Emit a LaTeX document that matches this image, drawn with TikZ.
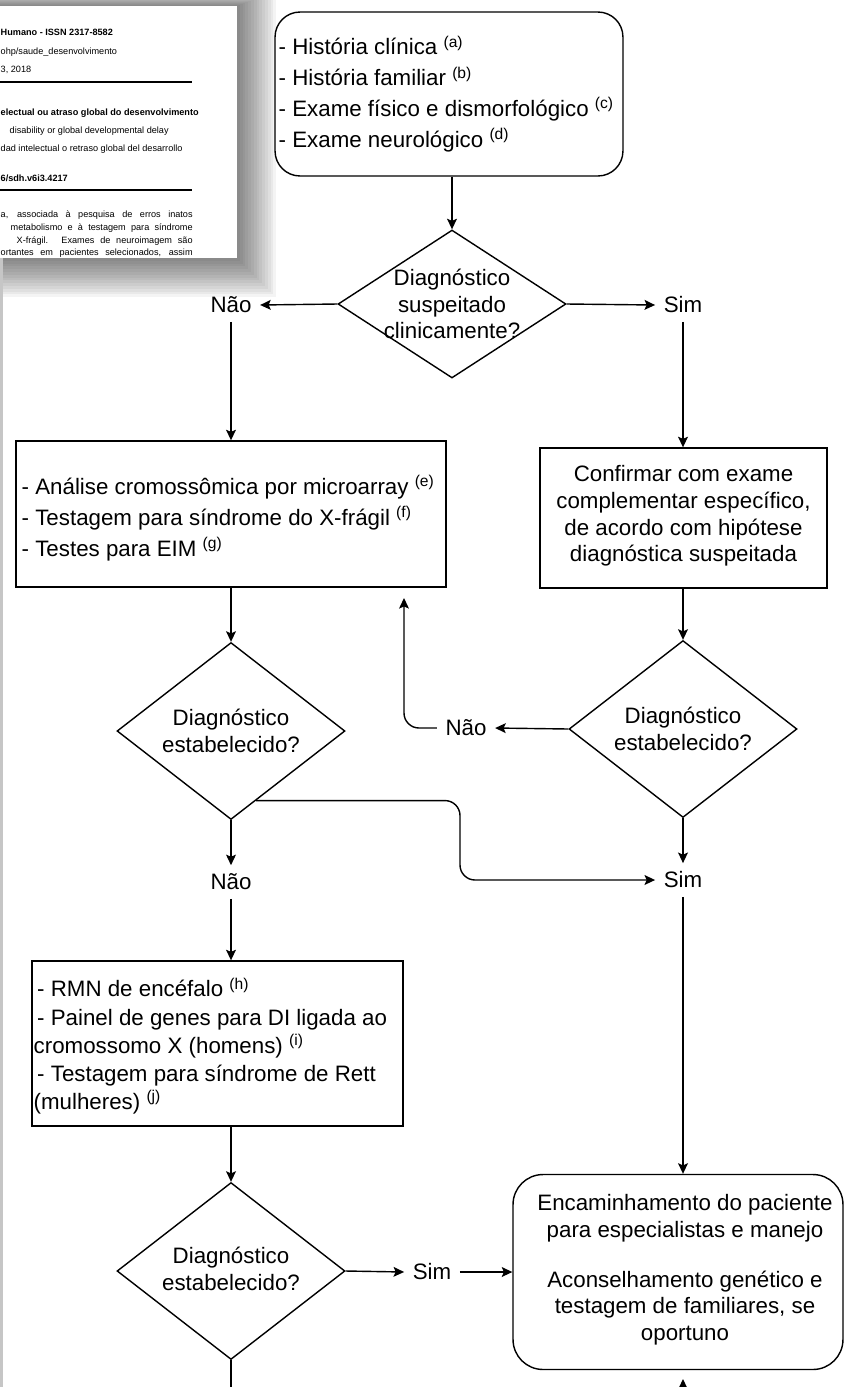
\documentclass[tikz,border=0pt]{standalone}
\usepackage{fontspec}
\setmainfont{Liberation Sans}
\usetikzlibrary{arrows.meta,positioning,shapes.geometric,calc}

\begin{document}
\begin{tikzpicture}[x=0.02cm, y=-0.02cm, line width=0.8pt,
  txt/.style={inner sep=0pt, font=\fontsize{12.7}{17.6}\selectfont},
  ctxt/.style={inner sep=0pt, align=center, font=\fontsize{12.7}{15.2}\selectfont},
  lbl/.style={inner sep=0.16cm, font=\fontsize{12.7}{15}\selectfont},
  sqbox/.style={draw, inner sep=0pt},
  rbox/.style={draw, inner sep=0pt, rounded corners=0.5cm},
  decision/.style={draw, diamond, inner sep=0pt, minimum width=4.56cm, minimum height=3.54cm},
  arr/.style={-{Stealth[length=6pt, width=5.6pt, inset=1.2pt]}},
  page/.style={inner sep=0pt, anchor=west, font=\fontsize{5.2}{6}\selectfont}]

  \useasboundingbox (0,0) rectangle (846,1387);
  \clip (0,0) rectangle (846,1387);

  % pasted page of the article, with its shadow
  \foreach \k in {1,...,14}
    \fill[black, opacity=0.045] (-40,6-\k) rectangle (237+2.8*\k, 258+2.8*\k);
  \fill[white] (-10,6) rectangle (237,258);
  \fill[gray!45] (0,258) rectangle (3,1387);

  \node[page, font=\fontsize{5.2}{6}\selectfont\bfseries] (issn) at (0,32) {Humano - ISSN 2317-8582};
  \node[page] (site) at (0,52) {ohp/saude\_desenvolvimento};
  \node[page] (ano) at (0,70) {3, 2018};
  \draw[line width=0.6pt] (0,82) -- (192,82);
  \node[page, font=\fontsize{5.2}{6}\selectfont\bfseries] (titpt) at (0,113) {electual ou atraso global do desenvolvimento};
  \node[page] (titen) at (9,131) {disability or global developmental delay};
  \node[page] (tites) at (0,149) {dad intelectual o retraso global del desarrollo};
  \node[page, font=\fontsize{5.2}{6}\selectfont\bfseries] (doi) at (0,178) {6/sdh.v6i3.4217};
  \draw[line width=0.6pt] (0,190) -- (192,190);
  \node[page] (par1) at (0,215) {\makebox[3.84cm][s]{a, associada à pesquisa de erros inatos}};
  \node[page] (par2) at (10,228) {\makebox[3.64cm][s]{metabolismo e à testagem para síndrome}};
  \node[page] (par3) at (16,241) {\makebox[3.52cm][s]{X-frágil. Exames de neuroimagem são}};
  \node[page] (par4) at (0,253) {\makebox[3.84cm][s]{ortantes em pacientes selecionados, assim}};

  % flowchart
  \node[rbox, minimum width=6.96cm, minimum height=3.28cm] (exame) at (449,94) {};
  \node[txt, anchor=west, align=left] (exametxt) at (278,94)
    {- História clínica \textsuperscript{(a)}\\- História familiar \textsuperscript{(b)}\\- Exame físico e dismorfológico \textsuperscript{(c)}\\- Exame neurológico \textsuperscript{(d)}};

  \node[decision, minimum height=2.96cm] (suspeito) at (452,304) {};
  \node[ctxt] (suspeitotxt) at (452,304) {Diagnóstico\\suspeitado\\clinicamente?};
  \node[lbl] (nao1) at (231,305) {Não};
  \node[lbl] (sim1) at (683,305) {Sim};

  \node[sqbox, minimum width=8.6cm, minimum height=2.92cm] (analise) at (231,514) {};
  \node[txt, anchor=west, align=left] (analisetxt) at (21,518)
    {- Análise cromossômica por microarray \textsuperscript{(e)}\\- Testagem para síndrome do X-frágil \textsuperscript{(f)}\\- Testes para EIM \textsuperscript{(g)}};

  \node[sqbox, minimum width=5.74cm, minimum height=2.8cm] (confirma) at (683.5,518) {};
  \node[ctxt] (confirmatxt) at (683.5,516)
    {Confirmar com exame\\complementar específico,\\de acordo com hipótese\\diagnóstica suspeitada};

  \node[decision] (estab1) at (231,731) {};
  \node[ctxt] (estab1txt) at (231,731) {Diagnóstico\\estabelecido?};
  \node[decision] (estab2) at (683,729) {};
  \node[ctxt] (estab2txt) at (683,729) {Diagnóstico\\estabelecido?};
  \node[lbl] (nao3) at (466,728) {Não};
  \coordinate (volta) at (404,598);
  \node[lbl] (nao2) at (231,882) {Não};
  \node[lbl] (sim2) at (683,880) {Sim};
  \coordinate (desvio) at (460,840);
  \coordinate (saida) at ($(estab1.south)!0.22!(estab1.east)$);

  \node[sqbox, minimum width=7.42cm, minimum height=3.3cm] (rmn) at (217.5,1043.5) {};
  \node[txt, anchor=west, align=left, font=\fontsize{12.7}{16}\selectfont] (rmntxt) at (33,1046)
    {\hspace{2pt}- RMN de encéfalo \textsuperscript{(h)}\\\hspace{2pt}- Painel de genes para DI ligada ao\\cromossomo X (homens) \textsuperscript{(i)}\\\hspace{2pt}- Testagem para síndrome de Rett\\(mulheres) \textsuperscript{(j)}};

  \node[decision] (estab3) at (231,1271) {};
  \node[ctxt] (estab3txt) at (231,1269) {Diagnóstico\\estabelecido?};
  \node[lbl] (sim3) at (432,1272) {Sim};
  \node[rbox, rounded corners=0.6cm, minimum width=6.6cm, minimum height=3.9cm] (encaminha) at (678,1272) {};
  \node[ctxt] (encaminhatxt) at (685,1270)
    {Encaminhamento do paciente\\para especialistas e manejo\\[0.46cm]Aconselhamento genético e\\testagem de familiares, se\\oportuno};
  \coordinate (pe3) at (231,1400);
  \coordinate (pe5) at (683,1400);
  \coordinate (ponta5) at (683,1379);

  % connectors
  \draw[arr] (exame.south -| suspeito.north) -- (suspeito.north);
  \draw[arr] (suspeito.west) -- (nao1.east);
  \draw[arr] (suspeito.east) -- (sim1.west);
  \draw[arr] (nao1.south) -- (nao1.south |- analise.north);
  \draw[arr] (sim1.south) -- (sim1.south |- confirma.north);
  \draw[arr] (analise.south -| estab1.north) -- (estab1.north);
  \draw[arr] (confirma.south -| estab2.north) -- (estab2.north);
  \draw[arr] (estab2.west) -- (nao3.east);
  \draw[arr, rounded corners=0.3cm] (nao3.west) -| (volta);
  \draw[arr] (estab1.south) -- (nao2.north);
  \draw[arr, rounded corners=0.3cm] (saida) -| (desvio) |- (sim2.west);
  \draw[arr] (estab2.south) -- (sim2.north);
  \draw[arr] (sim2.south) -- (sim2.south |- encaminha.north);
  \draw[arr] (nao2.south) -- (nao2.south |- rmn.north);
  \draw[arr] (rmn.south -| estab3.north) -- (estab3.north);
  \draw[arr] (estab3.east) -- (sim3.west);
  \draw[arr] (sim3.east) -- (encaminha.west);
  \draw (estab3.south) -- (pe3);
  \draw[arr] (pe5) -- (ponta5);
\end{tikzpicture}
\end{document}
